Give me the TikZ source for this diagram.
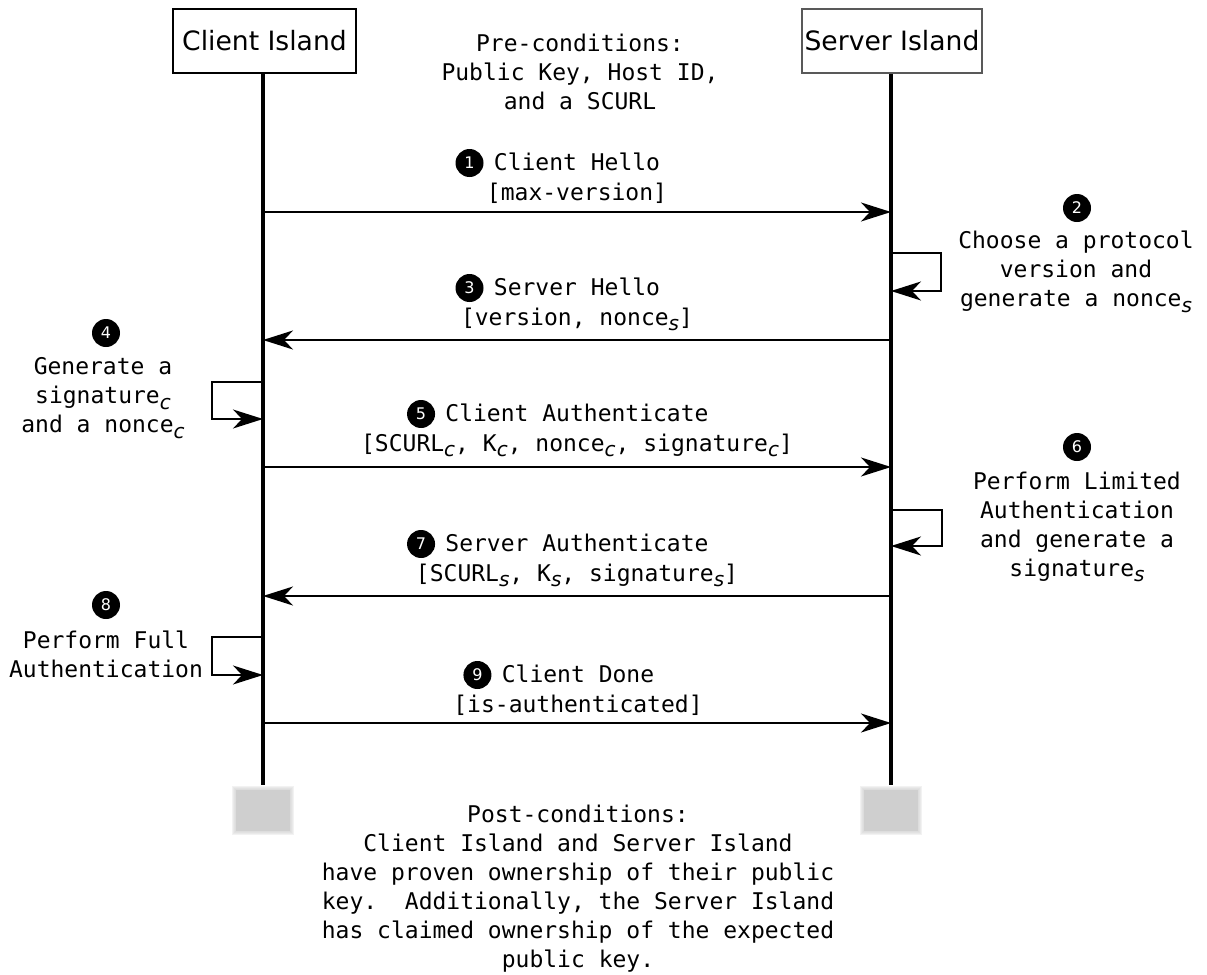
\documentclass[tikz,border=0pt]{standalone}
\usepackage{fontspec}
\setmainfont{DejaVu Sans Mono}
\newfontfamily\headfont{DejaVu Sans}
\newfontfamily\subfont{DejaVu Sans}
\usetikzlibrary{arrows.meta,calc}
\newcommand{\subi}[1]{\raisebox{-2.8pt}{\subfont\itshape\fontsize{10}{11}\selectfont #1}}
\frenchspacing
\tikzset{
  lifeline/.style={line width=2pt},
  head/.style={draw, rectangle, line width=1pt, minimum height=32pt, inner sep=0pt,
    font=\headfont\fontsize{13.3}{15}\selectfont},
  txt/.style={inner sep=0pt, font=\fontsize{11.5}{14.5}\selectfont},
  line/.style={txt, anchor=base},
  note/.style={txt, align=center},
  num/.style={circle, fill=black, text=white, minimum size=14pt, inner sep=0pt,
    font=\headfont\fontsize{8}{9}\selectfont},
  msg/.style={line width=1pt, -{Stealth[length=15pt,width=9.5pt,inset=4.5pt]}},
  loop/.style={line width=0.8pt, -{Stealth[length=15pt,width=9.5pt,inset=4.5pt]}},
  shadowbox/.style={fill=black!19, draw=none}
}
\begin{document}
\begin{tikzpicture}[x=0.5pt,y=-0.5pt]
\useasboundingbox (0,0) rectangle (1207,975);
\fill[white] (0,0) rectangle (1207,975);

% participants
\node[head, minimum width=91.5pt] (client) at (264.5,41) {Client Island};
\node[head, minimum width=90pt, draw=black!65] (server) at (892,41) {Server Island};
\coordinate (cend) at (263,785);
\coordinate (send) at (891,785);
\draw[lifeline] (client.south -| cend) -- (cend);
\draw[lifeline] (server.south -| send) -- (send);

% end markers (soft grey blocks)
\foreach \o in {4,3,2,1}{
  \fill[black!19, opacity=0.25] (236-\o,790-\o) rectangle (290+\o,831+\o);
  \fill[black!19, opacity=0.25] (864-\o,790-\o) rectangle (918+\o,831+\o);
}
\node[shadowbox, minimum width=27pt, minimum height=20.5pt, inner sep=0pt] (cblock) at (263,810.5) {};
\node[shadowbox, minimum width=27pt, minimum height=20.5pt, inner sep=0pt] (sblock) at (891,810.5) {};

% pre-conditions
\node[note] (pre) at (580,72) {Pre-conditions:\\Public Key, Host ID,\\and a SCURL};

% lifeline points
\coordinate (c1) at (263,212); \coordinate (s1) at (891,212);
\coordinate (s2a) at (891,253); \coordinate (s2b) at (891,291);
\coordinate (c3) at (263,340); \coordinate (s3) at (891,340);
\coordinate (c4a) at (263,382); \coordinate (c4b) at (263,419);
\coordinate (c5) at (263,467); \coordinate (s5) at (891,467);
\coordinate (s6a) at (891,510); \coordinate (s6b) at (891,546);
\coordinate (c7) at (263,596); \coordinate (s7) at (891,596);
\coordinate (c8a) at (263,637); \coordinate (c8b) at (263,675);
\coordinate (c9) at (263,723); \coordinate (s9) at (891,723);

% 1 Client Hello
\node[line] (m1a) at (577,170) {Client Hello};
\node[line] (m1b) at (577,200) {[max-version]};
\node[num] (n1) at ($(m1a.base west)+(-24,-7)$) {1};
\draw[msg] (c1) -- (s1);

% 2 version choice
\node[num] (n2) at (1077,208) {2};
\node[note] (t2) at (1076,272) {Choose a protocol\\version and\\generate a nonce\subi{s}};
\draw[loop] (s2a) -- ++(50,0) |- (s2b);

% 3 Server Hello
\node[line] (m3a) at (577,295) {Server Hello};
\node[line] (m3b) at (577,325) {[version, nonce\subi{s}]};
\node[num] (n3) at ($(m3a.base west)+(-24,-7)$) {3};
\draw[msg] (s3) -- (c3);

% 4 client signature
\node[num] (n4) at (106,333) {4};
\node[note] (t4) at (103,398) {Generate a\\signature\subi{c}\\and a nonce\subi{c}};
\draw[loop] (c4a) -- ++(-51,0) |- (c4b);

% 5 Client Authenticate
\node[line] (m5a) at (577,421) {Client Authenticate};
\node[line] (m5b) at (577,451) {[SCURL\subi{c}, K\subi{c}, nonce\subi{c}, signature\subi{c}]};
\node[num] (n5) at ($(m5a.base west)+(-24,-7)$) {5};
\draw[msg] (c5) -- (s5);

% 6 limited authentication
\node[num] (n6) at (1077,447) {6};
\node[note] (t6) at (1077,527) {Perform Limited\\Authentication\\and generate a\\signature\subi{s}};
\draw[loop] (s6a) -- ++(51,0) |- (s6b);

% 7 Server Authenticate
\node[line] (m7a) at (577,551) {Server Authenticate};
\node[line] (m7b) at (577,581) {[SCURL\subi{s}, K\subi{s}, signature\subi{s}]};
\node[num] (n7) at ($(m7a.base west)+(-24,-7)$) {7};
\draw[msg] (s7) -- (c7);

% 8 full authentication
\node[num] (n8) at (106,605) {8};
\node[note] (t8) at (106,654) {Perform Full\\Authentication};
\draw[loop] (c8a) -- ++(-51,0) |- (c8b);

% 9 Client Done
\node[line] (m9a) at (578,682) {Client Done};
\node[line] (m9b) at (578,712) {[is-authenticated]};
\node[num] (n9) at ($(m9a.base west)+(-24,-7)$) {9};
\draw[msg] (c9) -- (s9);

% post-conditions
\node[note] (post) at (578,888.5) {Post-conditions:\\Client Island and Server Island\\have proven ownership of their public\\key.\ \ Additionally, the Server Island\\has claimed ownership of the expected\\public key.};
\end{tikzpicture}
\end{document}
